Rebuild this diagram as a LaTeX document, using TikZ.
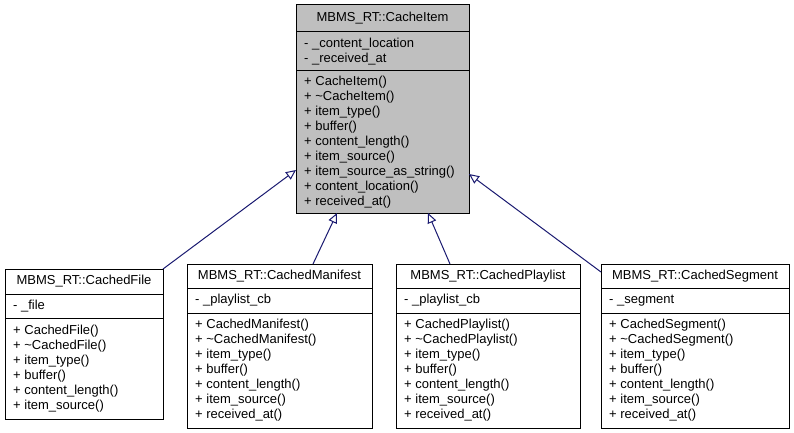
\documentclass[tikz,border=0pt]{standalone}
\usepackage{fontspec}
\setmainfont{Liberation Sans}
\usetikzlibrary{arrows.meta,calc}
\definecolor{navy}{HTML}{191970}
\definecolor{gray75}{HTML}{BFBFBF}
\begin{document}
\begin{tikzpicture}[x=1pt,y=-1pt,
  box/.style={draw=black, line width=1pt, inner sep=0pt, outer sep=0pt, anchor=north west, fill=white},
  basebox/.style={box, fill=gray75},
  sepline/.style={draw=black, line width=1pt},
  ttl/.style={font=\fontsize{13}{15}\selectfont, inner sep=0pt},
  members/.style={font=\fontsize{13}{15}\selectfont, align=left, inner sep=0pt, anchor=west},
  inh/.style={draw=navy, line width=1pt, -{Triangle[length=10pt,width=9pt,fill=white]}}]
\useasboundingbox (0,0) rectangle (794,433);

% base class
\node[basebox, minimum width=173pt, minimum height=208pt] (base) at (296,5) {};
\draw[sepline] (base.west |- 0,32) -- (base.east |- 0,32);
\draw[sepline] (base.west |- 0,71) -- (base.east |- 0,71);
\node[ttl] (baseT) at (382.5,18.5) {MBMS\_RT::CacheItem};
\node[members] (baseA) at (304,51.5) {- \_content\_location\\- \_received\_at};
\node[members] (baseM) at (304,142) {+ CacheItem()\\+ \textasciitilde CacheItem()\\+ item\_type()\\+ buffer()\\+ content\_length()\\+ item\_source()\\+ item\_source\_as\_string()\\+ content\_location()\\+ received\_at()};

% CachedFile
\node[box, minimum width=158pt, minimum height=150pt] (file) at (5,269) {};
\draw[sepline] (file.west |- 0,294) -- (file.east |- 0,294);
\draw[sepline] (file.west |- 0,318) -- (file.east |- 0,318);
\node[ttl] (fileT) at (84,281.5) {MBMS\_RT::CachedFile};
\node[members] (fileA) at (13,306) {- \_file};
\node[members] (fileM) at (13,368.5) {+ CachedFile()\\+ \textasciitilde CachedFile()\\+ item\_type()\\+ buffer()\\+ content\_length()\\+ item\_source()};

% CachedManifest
\node[box, minimum width=185pt, minimum height=164pt] (man) at (187,264) {};
\draw[sepline] (man.west |- 0,288) -- (man.east |- 0,288);
\draw[sepline] (man.west |- 0,313) -- (man.east |- 0,313);
\node[ttl] (manT) at (279.5,276) {MBMS\_RT::CachedManifest};
\node[members] (manA) at (195,300.5) {- \_playlist\_cb};
\node[members] (manM) at (195,370.5) {+ CachedManifest()\\+ \textasciitilde CachedManifest()\\+ item\_type()\\+ buffer()\\+ content\_length()\\+ item\_source()\\+ received\_at()};

% CachedPlaylist
\node[box, minimum width=184pt, minimum height=164pt] (pl) at (396,264) {};
\draw[sepline] (pl.west |- 0,288) -- (pl.east |- 0,288);
\draw[sepline] (pl.west |- 0,313) -- (pl.east |- 0,313);
\node[ttl] (plT) at (488,276) {MBMS\_RT::CachedPlaylist};
\node[members] (plA) at (404,300.5) {- \_playlist\_cb};
\node[members] (plM) at (404,370.5) {+ CachedPlaylist()\\+ \textasciitilde CachedPlaylist()\\+ item\_type()\\+ buffer()\\+ content\_length()\\+ item\_source()\\+ received\_at()};

% CachedSegment
\node[box, minimum width=188pt, minimum height=164pt] (seg) at (601,264) {};
\draw[sepline] (seg.west |- 0,288) -- (seg.east |- 0,288);
\draw[sepline] (seg.west |- 0,313) -- (seg.east |- 0,313);
\node[ttl] (segT) at (695,276) {MBMS\_RT::CachedSegment};
\node[members] (segA) at (609,300.5) {- \_segment};
\node[members] (segM) at (609,370.5) {+ CachedSegment()\\+ \textasciitilde CachedSegment()\\+ item\_type()\\+ buffer()\\+ content\_length()\\+ item\_source()\\+ received\_at()};

% inheritance connectors
\coordinate (fileTo) at (base.west |- 0,170);
\coordinate (manFrom) at ($(man.north west)+(126,0)$);
\coordinate (manTo) at ($(base.south west)+(41,0)$);
\coordinate (plFrom) at ($(pl.north west)+(54,0)$);
\coordinate (plTo) at ($(base.south west)+(132,0)$);
\coordinate (segFrom) at ($(seg.north west)+(0,8)$);
\coordinate (segTo) at (base.east |- 0,174);
\draw[inh] (file.north east) -- (fileTo);
\draw[inh] (manFrom) -- (manTo);
\draw[inh] (plFrom) -- (plTo);
\draw[inh] (segFrom) -- (segTo);
\end{tikzpicture}
\end{document}
